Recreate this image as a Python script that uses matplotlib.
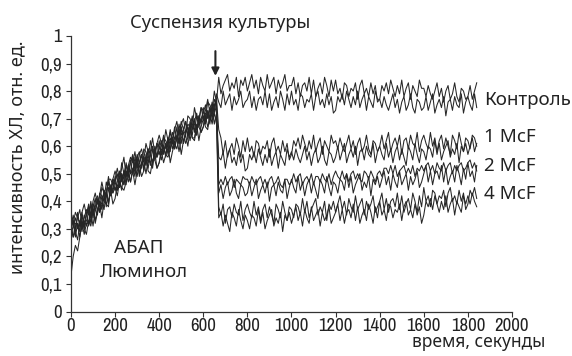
import numpy as np
import matplotlib.pyplot as plt
from matplotlib import font_manager as fm

# Время, с (шаг 10 с, 0..1840); суспензию добавляют около 665 с
time = np.arange(0, 1841, 10)

# Кривые ХЛ (по две на каждое условие); строка = 200 с (20 точек)
control_a = [
    .35, .32, .36, .34, .32, .36, .39, .35, .39, .35, .40, .43, .39, .42, .47, .43, .42, .48, .48, .46,
    .48, .52, .48, .52, .56, .49, .53, .56, .54, .58, .52, .57, .59, .55, .61, .58, .58, .63, .57, .61,
    .64, .61, .60, .66, .62, .65, .61, .66, .69, .64, .69, .66, .64, .71, .70, .67, .74, .70, .68, .74,
    .73, .70, .76, .75, .73, .80, .76, .85, .79, .82, .84, .86, .80, .83, .81, .85, .78, .84, .82, .85,
    .80, .83, .86, .81, .84, .79, .85, .82, .80, .86, .81, .83, .85, .79, .84, .81, .83, .86, .80, .82,
    .82, .85, .79, .83, .78, .82, .83, .80, .85, .79, .84, .78, .81, .83, .79, .85, .82, .78, .84, .80,
    .84, .79, .81, .77, .83, .82, .78, .81, .80, .83, .77, .82, .84, .79, .81, .78, .83, .79, .82, .76,
    .77, .82, .80, .83, .79, .84, .81, .78, .82, .79, .84, .78, .81, .83, .77, .82, .80, .78, .84, .81,
    .81, .78, .82, .79, .77, .80, .83, .78, .81, .76, .80, .82, .77, .79, .83, .78, .76, .81, .80, .77,
    .78, .82, .77, .80, .83]
control_b = [
    .31, .35, .30, .34, .37, .31, .34, .37, .35, .40, .34, .40, .42, .39, .45, .43, .43, .49, .43, .48,
    .51, .48, .47, .54, .50, .53, .49, .54, .57, .52, .57, .54, .52, .59, .58, .55, .62, .58, .56, .61,
    .60, .57, .63, .62, .60, .66, .62, .67, .62, .65, .68, .70, .65, .68, .67, .71, .65, .71, .70, .74,
    .70, .73, .77, .72, .76, .72, .79, .76, .74, .80, .75, .77, .79, .73, .78, .75, .77, .80, .74, .76,
    .77, .80, .74, .78, .73, .77, .78, .75, .80, .74, .79, .73, .76, .78, .74, .80, .77, .73, .79, .75,
    .80, .75, .77, .73, .79, .78, .74, .77, .76, .79, .73, .78, .80, .75, .77, .74, .79, .75, .78, .72,
    .73, .78, .76, .79, .75, .80, .77, .74, .78, .75, .80, .74, .77, .79, .73, .78, .76, .74, .80, .77,
    .77, .74, .78, .75, .73, .76, .79, .74, .77, .72, .76, .78, .73, .75, .79, .74, .72, .77, .76, .73,
    .74, .78, .73, .76, .79, .72, .75, .77, .74, .78, .71, .76, .77, .73, .78, .75, .74, .79, .72, .76,
    .78, .75, .73, .79, .74]
mcf1_a = [
    .34, .31, .29, .36, .31, .35, .30, .35, .38, .34, .39, .37, .35, .43, .42, .40, .47, .44, .42, .48,
    .47, .44, .50, .50, .48, .54, .50, .55, .50, .53, .56, .58, .53, .56, .55, .59, .53, .59, .58, .61,
    .57, .60, .64, .59, .63, .58, .65, .63, .62, .68, .64, .66, .69, .63, .69, .66, .69, .72, .67, .70,
    .72, .75, .70, .74, .70, .75, .77, .66, .63, .57, .62, .56, .59, .61, .57, .63, .60, .56, .62, .58,
    .63, .58, .60, .56, .62, .61, .57, .60, .59, .62, .56, .61, .63, .58, .60, .57, .62, .58, .61, .55,
    .57, .62, .60, .63, .59, .64, .61, .58, .62, .59, .64, .58, .61, .63, .57, .62, .60, .58, .64, .61,
    .62, .59, .63, .60, .58, .61, .64, .59, .62, .57, .61, .63, .58, .60, .64, .59, .57, .62, .61, .58,
    .60, .64, .59, .62, .65, .58, .61, .63, .60, .64, .57, .62, .63, .59, .64, .61, .60, .65, .58, .62,
    .64, .61, .59, .65, .60, .63, .58, .62, .64, .59, .63, .60, .57, .64, .62, .59, .65, .61, .58, .63,
    .62, .59, .64, .63, .60]
mcf1_b = [
    .30, .27, .32, .32, .29, .36, .31, .36, .31, .35, .38, .41, .36, .40, .39, .44, .38, .45, .44, .48,
    .44, .47, .51, .47, .51, .46, .53, .51, .50, .56, .52, .54, .57, .51, .57, .54, .57, .60, .55, .57,
    .59, .62, .57, .61, .57, .61, .63, .61, .67, .61, .67, .61, .65, .67, .64, .70, .68, .64, .71, .68,
    .74, .69, .72, .68, .75, .75, .72, .56, .55, .58, .52, .57, .59, .54, .56, .53, .58, .54, .57, .51,
    .52, .57, .55, .58, .54, .59, .56, .53, .57, .54, .59, .53, .56, .58, .52, .57, .55, .53, .59, .56,
    .58, .55, .59, .56, .54, .57, .60, .55, .58, .53, .57, .59, .54, .56, .60, .55, .53, .58, .57, .54,
    .56, .60, .55, .58, .61, .54, .57, .59, .56, .60, .53, .58, .59, .55, .60, .57, .56, .61, .54, .58,
    .60, .57, .55, .61, .56, .59, .54, .58, .60, .55, .59, .56, .53, .60, .58, .55, .61, .57, .54, .59,
    .58, .55, .60, .59, .56, .62, .57, .61, .55, .58, .60, .62, .56, .59, .57, .61, .54, .60, .58, .61,
    .57, .60, .63, .58, .61]
mcf2_a = [
    .28, .31, .34, .30, .33, .29, .35, .33, .32, .39, .35, .38, .41, .36, .42, .40, .43, .47, .42, .45,
    .47, .50, .45, .50, .46, .50, .52, .50, .56, .50, .56, .50, .54, .56, .53, .59, .57, .53, .60, .56,
    .62, .57, .60, .56, .63, .62, .59, .63, .63, .66, .61, .66, .69, .64, .67, .64, .70, .66, .70, .65,
    .67, .72, .71, .74, .71, .77, .75, .46, .48, .46, .49, .46, .48, .49, .45, .48, .47, .46, .49, .48,
    .48, .46, .49, .47, .46, .48, .49, .46, .48, .45, .48, .49, .46, .47, .49, .46, .45, .48, .48, .46,
    .47, .50, .47, .49, .50, .46, .48, .49, .47, .50, .46, .49, .49, .47, .50, .48, .47, .50, .46, .49,
    .51, .49, .48, .51, .48, .50, .47, .50, .51, .48, .50, .48, .47, .51, .50, .48, .51, .49, .47, .50,
    .51, .49, .52, .52, .50, .53, .50, .53, .49, .51, .52, .53, .50, .52, .50, .53, .49, .52, .51, .53,
    .51, .53, .54, .51, .53, .50, .54, .52, .51, .54, .51, .53, .54, .50, .53, .51, .53, .54, .51, .52,
    .54, .55, .52, .54, .51]
mcf2_b = [
    .30, .33, .27, .32, .27, .32, .33, .31, .37, .32, .38, .33, .37, .40, .37, .44, .42, .39, .46, .43,
    .49, .44, .47, .44, .51, .50, .47, .51, .51, .54, .49, .54, .57, .52, .55, .52, .58, .54, .58, .52,
    .54, .59, .58, .61, .58, .63, .61, .59, .64, .61, .67, .61, .65, .67, .62, .67, .66, .64, .71, .69,
    .71, .68, .73, .70, .69, .73, .77, .43, .46, .41, .45, .47, .42, .44, .48, .43, .41, .46, .45, .42,
    .43, .47, .42, .45, .48, .41, .44, .46, .43, .47, .40, .45, .46, .42, .47, .44, .43, .48, .41, .45,
    .48, .45, .43, .49, .44, .47, .42, .46, .48, .43, .47, .44, .41, .48, .46, .43, .49, .45, .42, .47,
    .46, .43, .48, .47, .44, .50, .45, .49, .43, .46, .48, .50, .44, .47, .45, .49, .42, .48, .46, .49,
    .45, .48, .51, .46, .49, .44, .50, .47, .45, .51, .46, .48, .50, .44, .49, .46, .48, .51, .45, .47,
    .50, .53, .47, .51, .46, .50, .51, .48, .53, .47, .52, .46, .49, .51, .47, .53, .50, .46, .52, .48,
    .54, .49, .51, .47, .53]
mcf4_a = [
    .32, .27, .29, .26, .32, .32, .28, .32, .32, .36, .31, .37, .40, .36, .39, .37, .43, .40, .44, .39,
    .41, .46, .45, .49, .46, .51, .49, .47, .52, .49, .55, .49, .53, .55, .50, .55, .54, .52, .59, .56,
    .58, .55, .60, .57, .56, .59, .63, .59, .63, .58, .63, .65, .61, .63, .68, .63, .62, .67, .67, .65,
    .67, .71, .67, .70, .74, .68, .72, .38, .35, .39, .32, .37, .38, .34, .39, .36, .35, .40, .33, .37,
    .39, .36, .34, .40, .35, .38, .33, .37, .39, .34, .38, .35, .32, .39, .37, .34, .40, .36, .33, .38,
    .37, .34, .39, .38, .35, .41, .36, .40, .34, .37, .39, .41, .35, .38, .36, .40, .33, .39, .37, .40,
    .36, .39, .42, .37, .40, .35, .41, .38, .36, .42, .37, .39, .41, .35, .40, .37, .39, .42, .36, .38,
    .40, .43, .37, .41, .36, .40, .41, .38, .43, .37, .42, .36, .39, .41, .37, .43, .40, .36, .42, .38,
    .45, .40, .42, .38, .44, .43, .39, .42, .41, .44, .38, .43, .45, .40, .42, .39, .44, .40, .43, .37,
    .39, .44, .42, .45, .41]
mcf4_b = [
    .13, .20, .24, .22, .27, .33, .30, .28, .33, .31, .37, .32, .36, .39, .34, .40, .39, .38, .45, .43,
    .45, .42, .47, .45, .44, .47, .51, .47, .51, .46, .51, .53, .49, .51, .56, .51, .50, .55, .55, .52,
    .54, .58, .54, .57, .61, .54, .58, .61, .59, .63, .57, .62, .64, .60, .66, .63, .63, .68, .62, .67,
    .70, .67, .66, .72, .68, .72, .68, .34, .36, .31, .35, .32, .29, .36, .34, .31, .37, .33, .30, .35,
    .33, .30, .35, .34, .31, .37, .32, .36, .30, .33, .35, .37, .31, .34, .32, .36, .29, .35, .33, .36,
    .32, .35, .38, .33, .36, .31, .37, .34, .32, .38, .33, .35, .37, .31, .36, .33, .35, .38, .32, .34,
    .36, .39, .33, .37, .32, .36, .37, .34, .39, .33, .38, .32, .35, .37, .33, .39, .36, .32, .38, .34,
    .40, .35, .37, .33, .39, .38, .34, .37, .36, .39, .33, .38, .40, .35, .37, .34, .39, .35, .38, .32,
    .35, .40, .38, .41, .37, .42, .39, .36, .40, .37, .42, .36, .39, .41, .35, .40, .38, .36, .42, .39,
    .42, .39, .43, .40, .38]

curves = [control_a, control_b, mcf1_a, mcf1_b, mcf2_a, mcf2_b, mcf4_a, mcf4_b]
for c in curves:
    assert len(c) == len(time), len(c)

labels = ["Контроль", "1 McF", "2 McF", "4 McF"]
label_y = [0.768, 0.632, 0.528, 0.426]
x_ticks = np.arange(0, 2001, 200)
y_ticks = np.round(np.arange(0, 1.01, 0.1), 1)
y_tick_labels = ["0" if v == 0 else ("1" if v == 1 else f"{v:.1f}".replace(".", ",")) for v in y_ticks]
t_injection = 655

# узкий шрифт для подписей делений, если он есть
fonts = fm.fontManager.ttflist
narrow = sorted({f.name for f in fonts if 'Narrow' in f.name or 'Condensed' in f.name})
cond_families = sorted({f.name for f in fonts
                        if str(f.stretch) in ('condensed', 'semi-condensed', '75', '87')
                        and f.name in ('Noto Sans', 'Open Sans', 'DejaVu Sans', 'Roboto')})
if narrow:
    tick_font = dict(family=narrow[0], size=13.5)
elif cond_families:
    tick_font = dict(family=cond_families[0], stretch='condensed', size=13)
else:
    tick_font = dict(family='Roboto', size=12)

plt.rcParams['font.family'] = ['Noto Sans', 'DejaVu Sans']
ink = '#222222'
fig = plt.figure(figsize=(5.72, 3.56), dpi=100)
ax = fig.add_axes([0.1241, 0.125, 0.771, 0.774])

for c in curves:
    ax.plot(time, c, color='#262626', linewidth=0.75)

ax.set_xlim(0, 2000)
ax.set_ylim(0, 1)
ax.spines['top'].set_visible(False)
ax.spines['right'].set_visible(False)
for s in ['left', 'bottom']:
    ax.spines[s].set_color('#333333')
    ax.spines[s].set_linewidth(0.9)

ax.set_xticks(x_ticks)
ax.set_xticklabels([str(v) for v in x_ticks], **tick_font)
ax.set_yticks(y_ticks)
ax.set_yticklabels(y_tick_labels, **tick_font)
ax.tick_params(direction='out', length=3.5, width=0.8, colors='#333333', labelcolor=ink)
ax.tick_params(axis='x', pad=1.5)
ax.tick_params(axis='y', pad=3)

ax.set_ylabel("интенсивность ХЛ, отн. ед.", fontsize=13, color=ink)
ax.yaxis.set_label_coords(-0.102, 0.559)
ax.text(1.075, -0.129, "время, секунды", transform=ax.transAxes, ha='right', va='baseline',
        fontsize=12.5, color=ink)

ax.annotate("", xy=(t_injection, 0.845), xytext=(t_injection, 0.955),
            arrowprops=dict(arrowstyle='-|>', color=ink, lw=1.5, mutation_scale=11))
ax.text(676, 1.029, "Суспензия культуры", ha='center', va='baseline', fontsize=13.2, color=ink)

for lab, yv in zip(labels, label_y):
    ax.text(1873, yv, lab, ha='left', va='center', fontsize=13.5, color=ink)

ax.text(308, 0.212, "АБАП", ha='center', va='baseline', fontsize=13.5, color=ink)
ax.text(333, 0.125, "Люминол", ha='center', va='baseline', fontsize=13.5, color=ink)

fig.savefig("out.png", dpi=100)
